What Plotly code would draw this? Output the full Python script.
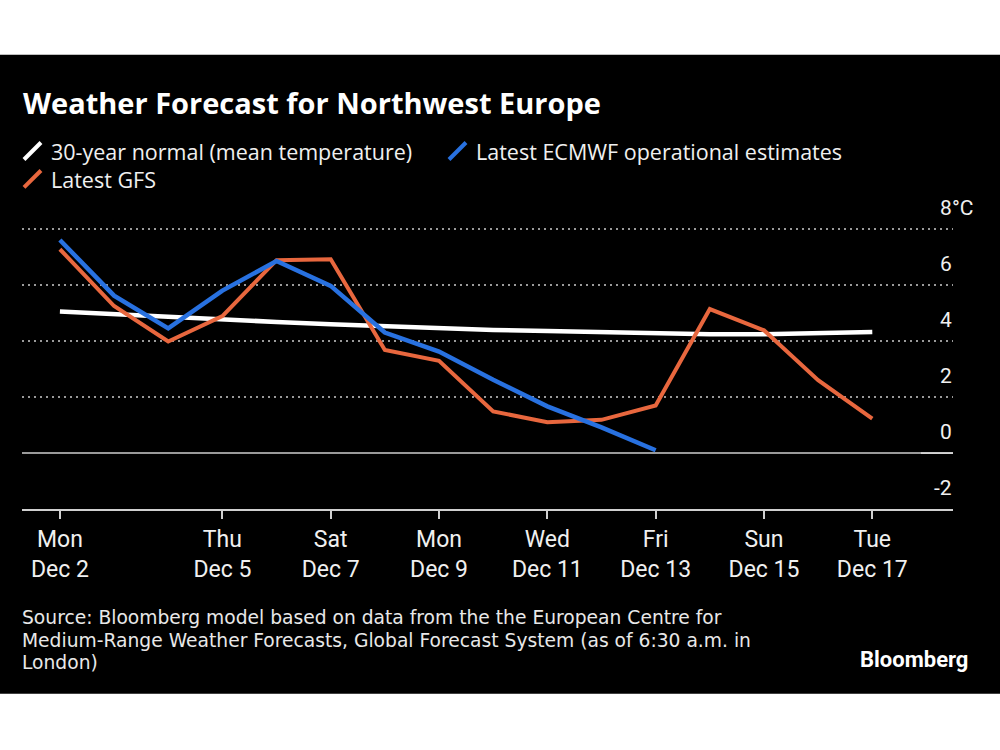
import plotly.graph_objects as go
import pandas as pd

# ---------------- data ----------------
dates = pd.date_range("2024-12-02", "2024-12-17", freq="D")
normal = [5.06, 4.96, 4.86, 4.77, 4.69, 4.61, 4.53, 4.45, 4.40, 4.37, 4.32, 4.29, 4.25, 4.25, 4.27, 4.33]
ecmwf = [7.62, 5.63, 4.46, 5.81, 6.87, 5.98, 4.31, 3.63, 2.62, 1.67, 0.92, 0.10]
gfs = [7.29, 5.26, 3.99, 4.90, 6.90, 6.93, 3.69, 3.30, 1.49, 1.10, 1.19, 1.70, 5.15, 4.39, 2.61, 1.23]

series_names = ["30-year normal (mean temperature)", "Latest ECMWF operational estimates", "Latest GFS"]
series_colors = ["#FFFFFF", "#2871E0", "#E8673E"]

tick_dates = ["2024-12-02", "2024-12-05", "2024-12-07", "2024-12-09",
              "2024-12-11", "2024-12-13", "2024-12-15", "2024-12-17"]
tick_labels = ["Mon<br>Dec 2", "Thu<br>Dec 5", "Sat<br>Dec 7", "Mon<br>Dec 9",
               "Wed<br>Dec 11", "Fri<br>Dec 13", "Sun<br>Dec 15", "Tue<br>Dec 17"]
y_ticks = [-2, 0, 2, 4, 6, 8]
y_unit = "°C"

title = "Weather Forecast for Northwest Europe"
source_lines = [
    "Source: Bloomberg model based on data from the the European Centre for",
    "Medium-Range Weather Forecasts, Global Forecast System (as of 6:30 a.m. in",
    "London)",
]

# ---------------- layout helpers ----------------
W, H = 1000, 750
Y_TOP = 8.05
L, R, B = 22, 953, 509
T = 229 - (Y_TOP - 8) * 28
FONT = "Roboto"
FONT2 = "Open Sans"
FONT3 = "DejaVu Sans"


def px(x):
    return (x - L) / (R - L)


def py(y):
    return (B - y) / (B - T)


fig = go.Figure()
series_values = [normal, ecmwf, gfs]
widths = [4.5, 4.5, 4]
order = [0, 2, 1]
for i in order:
    vals = series_values[i]
    fig.add_trace(go.Scatter(
        x=dates[:len(vals)], y=vals, mode="lines", name=series_names[i],
        line=dict(color=series_colors[i], width=widths[i]),
        showlegend=False,
    ))

shapes = [
    # black card background
    dict(type="rect", xref="paper", yref="paper", x0=px(-5), x1=px(1005),
         y0=py(694), y1=py(54), fillcolor="#000000", line=dict(width=0), layer="below"),
    # bright zero stub under tick labels
    dict(type="line", xref="paper", yref="y", x0=px(921), x1=1, y0=0, y1=0,
         line=dict(color="#e0e0e0", width=1.5)),
]

annotations = []
# title
annotations.append(dict(text="<b>" + title + "</b>", xref="paper", yref="paper",
                        x=px(21), y=py(102), xanchor="left", yanchor="middle",
                        showarrow=False, font=dict(family=FONT2, size=29, color="white")))
# legend (custom, with slanted icons)
legend_items = [(0, 24, 151), (1, 449, 151), (2, 24, 179)]
for idx, x0, yc in legend_items:
    shapes.append(dict(type="line", xref="paper", yref="paper",
                       x0=px(x0), y0=py(yc + 8), x1=px(x0 + 17), y1=py(yc - 9),
                       line=dict(color=series_colors[idx], width=4)))
    annotations.append(dict(text=series_names[idx], xref="paper", yref="paper",
                            x=px(x0 + 26), y=py(yc), xanchor="left", yanchor="middle",
                            showarrow=False, borderpad=0,
                            font=dict(family=FONT2, size=21.5, color="#f0f0f0")))
# y tick labels (above gridlines, right aligned)
for v in y_ticks:
    annotations.append(dict(text=str(v), xref="paper", yref="y", x=1, y=v,
                            yshift=21, xanchor="right", yanchor="middle", showarrow=False,
                            borderpad=0, font=dict(family=FONT, size=21, color="#f0f0f0")))
annotations.append(dict(text=y_unit, xref="paper", yref="y", x=1, y=y_ticks[-1],
                        yshift=21, xshift=-2, xanchor="left", yanchor="middle", showarrow=False,
                        borderpad=0, font=dict(family=FONT, size=21, color="#f0f0f0")))
# source
for k, line in enumerate(source_lines):
    annotations.append(dict(text=line, xref="paper", yref="paper",
                            x=px(21), y=py(618 + 22.5 * k), xanchor="left", yanchor="middle",
                            showarrow=False, borderpad=0,
                            font=dict(family=FONT3, size=18.7, color="#e8e8e8")))
# logo
annotations.append(dict(text="<b>Bloomberg</b>", xref="paper", yref="paper",
                        x=px(970), y=py(660), xanchor="right", yanchor="middle",
                        showarrow=False, font=dict(family=FONT, size=22, color="white")))

fig.update_layout(
    width=W, height=H,
    margin=dict(l=L, r=W - R, t=T, b=H - B, pad=0),
    paper_bgcolor="white", plot_bgcolor="black",
    font=dict(family=FONT, color="#f0f0f0"),
    shapes=shapes, annotations=annotations,
    showlegend=False,
)
fig.update_xaxes(
    type="date", range=["2024-12-01 07:12", "2024-12-18 11:46"],
    tickvals=tick_dates, ticktext=tick_labels,
    showgrid=False, zeroline=False,
    showline=True, linecolor="#d0d0d0", linewidth=2,
    ticks="outside", ticklen=8, tickwidth=1.5, tickcolor="#d0d0d0",
    tickfont=dict(family=FONT, size=23, color="#f0f0f0"),
)
fig.update_yaxes(
    range=[-2, Y_TOP], tickvals=y_ticks, showticklabels=False,
    showgrid=True, gridcolor="#9a9a9a", gridwidth=1.5, griddash="2px,4px",
    zeroline=True, zerolinecolor="#9a9a9a", zerolinewidth=1.5,
    showline=False, ticks="",
)

fig.write_html("out.html", config={"displayModeBar": False},
               post_script="document.body.style.margin='0px';")
